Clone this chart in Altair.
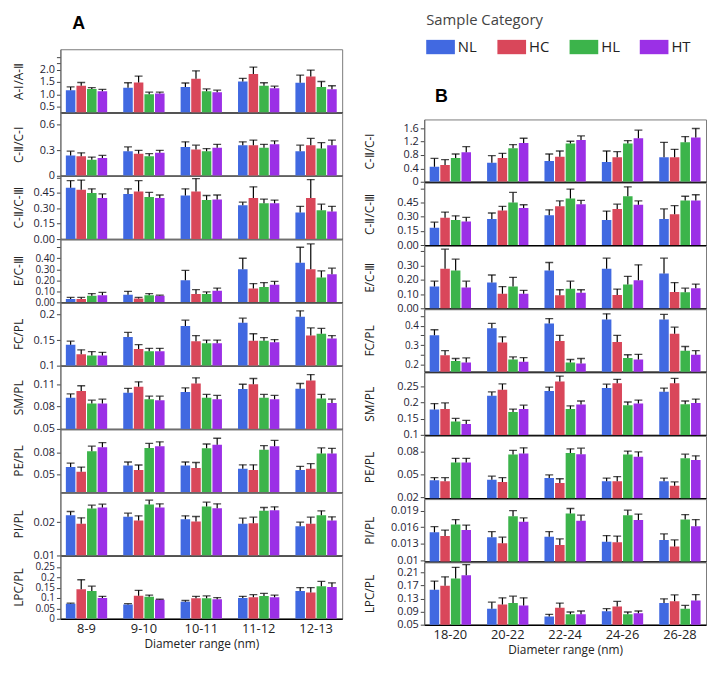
import altair as alt
import pandas as pd

CATS = ["NL", "HC", "HL", "HT"]
COLORS = ["#4169E1", "#D9475A", "#3CB44B", "#9B30E6"]
RANGES_A = ["8-9", "9-10", "10-11", "11-12", "12-13"]
RANGES_B = ["18-20", "20-22", "22-24", "24-26", "26-28"]

# ---------------- Panel A ----------------
A1_MEAN = {"NL": [1.17, 1.27, 1.30, 1.52, 1.47], "HC": [1.35, 1.48, 1.63, 1.82, 1.72],
           "HL": [1.22, 1.01, 1.13, 1.35, 1.30], "HT": [1.13, 1.04, 1.09, 1.25, 1.21]}
A1_HI = {"NL": [1.30, 1.47, 1.46, 1.65, 1.78], "HC": [1.48, 1.74, 1.95, 2.10, 1.98],
         "HL": [1.27, 1.09, 1.22, 1.47, 1.52], "HT": [1.20, 1.09, 1.17, 1.33, 1.35]}

A2_MEAN = {"NL": [0.24, 0.29, 0.34, 0.36, 0.29], "HC": [0.23, 0.26, 0.31, 0.36, 0.36],
           "HL": [0.19, 0.23, 0.29, 0.33, 0.32], "HT": [0.21, 0.27, 0.33, 0.37, 0.36]}
A2_HI = {"NL": [0.29, 0.34, 0.40, 0.40, 0.36], "HC": [0.27, 0.30, 0.36, 0.42, 0.44],
         "HL": [0.22, 0.26, 0.32, 0.37, 0.39], "HT": [0.24, 0.30, 0.37, 0.41, 0.42]}

A3_MEAN = {"NL": [0.50, 0.44, 0.425, 0.33, 0.26], "HC": [0.48, 0.465, 0.465, 0.40, 0.40],
           "HL": [0.45, 0.41, 0.38, 0.35, 0.28], "HT": [0.40, 0.40, 0.385, 0.35, 0.27]}
A3_HI = {"NL": [0.57, 0.49, 0.49, 0.36, 0.32], "HC": [0.575, 0.57, 0.59, 0.51, 0.58],
         "HL": [0.49, 0.455, 0.425, 0.39, 0.34], "HT": [0.44, 0.43, 0.43, 0.38, 0.32]}

A4_MEAN = {"NL": [0.03, 0.07, 0.20, 0.30, 0.36], "HC": [0.03, 0.035, 0.075, 0.125, 0.30],
           "HL": [0.06, 0.065, 0.075, 0.14, 0.225], "HT": [0.065, 0.06, 0.105, 0.16, 0.255]}
A4_HI = {"NL": [0.045, 0.10, 0.29, 0.40, 0.50], "HC": [0.045, 0.045, 0.115, 0.17, 0.53],
         "HL": [0.08, 0.08, 0.095, 0.18, 0.285], "HT": [0.09, 0.065, 0.13, 0.19, 0.31]}

A5_MEAN = {"NL": [0.141, 0.156, 0.1775, 0.184, 0.196], "HC": [0.1225, 0.1325, 0.148, 0.149, 0.159],
           "HL": [0.12, 0.128, 0.144, 0.149, 0.1625], "HT": [0.12, 0.128, 0.144, 0.146, 0.153]}
A5_HI = {"NL": [0.148, 0.165, 0.189, 0.193, 0.2075], "HC": [0.131, 0.141, 0.159, 0.1625, 0.174],
         "HL": [0.1275, 0.134, 0.15, 0.155, 0.173], "HT": [0.126, 0.134, 0.15, 0.151, 0.159]}

A6_MEAN = {"NL": [0.092, 0.0985, 0.0997, 0.1036, 0.104], "HC": [0.101, 0.1065, 0.111, 0.11, 0.115],
           "HL": [0.084, 0.09, 0.092, 0.092, 0.0907], "HT": [0.084, 0.0886, 0.09, 0.09, 0.0847]}
A6_HI = {"NL": [0.097, 0.1045, 0.105, 0.11, 0.111], "HC": [0.108, 0.1133, 0.1186, 0.1177, 0.123],
         "HL": [0.0886, 0.094, 0.0963, 0.0963, 0.0963], "HT": [0.09, 0.094, 0.095, 0.095, 0.09]}

A7_MEAN = {"NL": [0.060, 0.062, 0.062, 0.0575, 0.0557], "HC": [0.0535, 0.0557, 0.0588, 0.056, 0.0575],
           "HL": [0.082, 0.0866, 0.086, 0.084, 0.0787], "HT": [0.0875, 0.0888, 0.091, 0.0888, 0.0787]}
A7_HI = {"NL": [0.0655, 0.067, 0.067, 0.063, 0.061], "HC": [0.060, 0.0628, 0.0663, 0.063, 0.0646],
         "HL": [0.089, 0.0928, 0.092, 0.0897, 0.0866], "HT": [0.094, 0.095, 0.100, 0.097, 0.086]}

A8_MEAN = {"NL": [0.0221, 0.0216, 0.0209, 0.0195, 0.0188], "HC": [0.0195, 0.0205, 0.0202, 0.0197, 0.0195],
           "HL": [0.0241, 0.0253, 0.0247, 0.0234, 0.0221], "HT": [0.0244, 0.0244, 0.0242, 0.0236, 0.0205]}
A8_HI = {"NL": [0.0232, 0.0227, 0.0219, 0.0212, 0.0200], "HC": [0.0213, 0.0219, 0.0217, 0.0215, 0.0215],
         "HL": [0.0251, 0.0266, 0.0260, 0.0244, 0.0234], "HT": [0.0254, 0.0255, 0.0255, 0.0246, 0.0216]}

A9_MEAN = {"NL": [0.0725, 0.069, 0.082, 0.10, 0.134], "HC": [0.142, 0.111, 0.099, 0.103, 0.127],
           "HL": [0.134, 0.1065, 0.099, 0.11, 0.157], "HT": [0.10, 0.091, 0.094, 0.103, 0.153]}
A9_HI = {"NL": [0.075, 0.0725, 0.088, 0.108, 0.15], "HC": [0.188, 0.137, 0.108, 0.116, 0.15],
         "HL": [0.157, 0.114, 0.11, 0.122, 0.18], "HT": [0.108, 0.094, 0.102, 0.114, 0.173]}

# ---------------- Panel B ----------------
B1_MEAN = {"NL": [0.45, 0.57, 0.62, 0.59, 0.73], "HC": [0.50, 0.71, 0.75, 0.73, 0.73],
           "HL": [0.71, 1.00, 1.14, 1.14, 1.18], "HT": [0.88, 1.16, 1.25, 1.30, 1.32]}
B1_HI = {"NL": [0.70, 0.78, 0.83, 0.92, 1.18], "HC": [0.66, 0.85, 0.92, 0.90, 0.97],
         "HL": [0.83, 1.11, 1.21, 1.23, 1.35], "HT": [1.05, 1.30, 1.37, 1.54, 1.59]}

B2_MEAN = {"NL": [0.183, 0.277, 0.317, 0.267, 0.277], "HC": [0.29, 0.367, 0.41, 0.383, 0.327],
           "HL": [0.267, 0.45, 0.493, 0.517, 0.473], "HT": [0.25, 0.393, 0.433, 0.427, 0.473]}
B2_HI = {"NL": [0.243, 0.34, 0.373, 0.36, 0.383], "HC": [0.35, 0.41, 0.467, 0.433, 0.417],
         "HL": [0.31, 0.557, 0.593, 0.617, 0.517], "HT": [0.293, 0.427, 0.473, 0.467, 0.533]}

B3_MEAN = {"NL": [0.152, 0.18, 0.265, 0.276, 0.243], "HC": [0.276, 0.102, 0.091, 0.093, 0.115],
           "HL": [0.265, 0.152, 0.137, 0.167, 0.113], "HT": [0.146, 0.102, 0.109, 0.196, 0.141]}
B3_HI = {"NL": [0.19, 0.233, 0.32, 0.35, 0.35], "HC": [0.413, 0.152, 0.13, 0.135, 0.18],
         "HL": [0.343, 0.217, 0.19, 0.224, 0.141], "HT": [0.19, 0.126, 0.13, 0.304, 0.17]}

B4_MEAN = {"NL": [0.351, 0.387, 0.411, 0.431, 0.431], "HC": [0.249, 0.314, 0.322, 0.317, 0.359],
           "HL": [0.22, 0.228, 0.213, 0.236, 0.273], "HT": [0.213, 0.216, 0.208, 0.228, 0.252]}
B4_HI = {"NL": [0.379, 0.411, 0.436, 0.46, 0.457], "HC": [0.273, 0.343, 0.351, 0.351, 0.392],
         "HL": [0.233, 0.241, 0.228, 0.252, 0.294], "HT": [0.236, 0.237, 0.233, 0.254, 0.273]}

B5_MEAN = {"NL": [0.179, 0.221, 0.236, 0.245, 0.234], "HC": [0.18, 0.24, 0.265, 0.26, 0.26],
           "HL": [0.142, 0.171, 0.18, 0.192, 0.195], "HT": [0.134, 0.18, 0.194, 0.197, 0.199]}
B5_HI = {"NL": [0.197, 0.233, 0.248, 0.257, 0.245], "HC": [0.199, 0.258, 0.282, 0.272, 0.275],
         "HL": [0.151, 0.18, 0.19, 0.202, 0.205], "HT": [0.145, 0.192, 0.205, 0.208, 0.211]}

B6_MEAN = {"NL": [0.0426, 0.0434, 0.0455, 0.0413, 0.0413], "HC": [0.0413, 0.0405, 0.039, 0.0413, 0.0355],
           "HL": [0.066, 0.0765, 0.0785, 0.0765, 0.0715], "HT": [0.066, 0.0777, 0.0769, 0.0736, 0.0694]}
B6_HI = {"NL": [0.046, 0.048, 0.0496, 0.0455, 0.0455], "HC": [0.046, 0.046, 0.0446, 0.0475, 0.0405],
         "HL": [0.0715, 0.0819, 0.084, 0.081, 0.0769], "HT": [0.0715, 0.0852, 0.0848, 0.0798, 0.0748]}

B7_MEAN = {"NL": [0.0151, 0.0142, 0.0143, 0.0134, 0.0137], "HC": [0.0144, 0.0131, 0.0128, 0.0133, 0.0125],
           "HL": [0.0165, 0.0180, 0.0185, 0.0182, 0.0174], "HT": [0.0155, 0.0170, 0.0172, 0.0173, 0.0162]}
B7_HI = {"NL": [0.0161, 0.0152, 0.0152, 0.0145, 0.0148], "HC": [0.0155, 0.0142, 0.0139, 0.0144, 0.0137],
         "HL": [0.0174, 0.0190, 0.0194, 0.0191, 0.0183], "HT": [0.0164, 0.0177, 0.0182, 0.0184, 0.0174]}

B8_MEAN = {"NL": [0.157, 0.099, 0.075, 0.091, 0.116], "HC": [0.169, 0.112, 0.102, 0.106, 0.122],
           "HL": [0.191, 0.116, 0.082, 0.082, 0.099], "HT": [0.201, 0.109, 0.082, 0.085, 0.124]}
B8_HI = {"NL": [0.183, 0.119, 0.082, 0.099, 0.129], "HC": [0.196, 0.132, 0.116, 0.121, 0.141],
         "HL": [0.225, 0.137, 0.089, 0.089, 0.109], "HT": [0.233, 0.132, 0.092, 0.092, 0.142]}

# row definitions: (title, domain, labelled ticks, labels, minor ticks, mean, hi)
ROWS_A = [
    ("A-Ⅰ/A-Ⅱ", [0.27, 2.82], [0.5, 1.0, 1.5, 2.0], ["0.5", "1.0", "1.5", "2.0"], [2.25, 2.5], A1_MEAN, A1_HI),
    ("C-Ⅱ/C-Ⅰ", [0, 0.744], [0, 0.3, 0.6], ["0", "0.3", "0.6"], [], A2_MEAN, A2_HI),
    ("C-Ⅱ/C-Ⅲ", [0, 0.617], [0, 0.15, 0.3, 0.45], ["0.00", "0.15", "0.30", "0.45"], [0.6], A3_MEAN, A3_HI),
    ("E/C-Ⅲ", [0, 0.574], [0, 0.1, 0.2, 0.3, 0.4], ["0.00", "0.10", "0.20", "0.30", "0.40"], [0.5], A4_MEAN, A4_HI),
    ("FC/PL", [0.1, 0.224], [0.1, 0.15, 0.2], ["0.1", "0.15", "0.2"], [], A5_MEAN, A5_HI),
    ("SM/PL", [0.05, 0.135], [0.05, 0.08, 0.11], ["0.05", "0.08", "0.11"], [], A6_MEAN, A6_HI),
    ("PE/PL", [0.025, 0.113], [0.05, 0.08], ["0.05", "0.08"], [], A7_MEAN, A7_HI),
    ("PI/PL", [0.01, 0.029], [0.01, 0.02], ["0.01", "0.02"], [], A8_MEAN, A8_HI),
    ("LPC/PL", [0, 0.305], [0, 0.05, 0.1, 0.15, 0.2, 0.25], ["0", "0.05", "0.1", "0.15", "0.2", "0.25"], [], A9_MEAN, A9_HI),
]
ROWS_B = [
    ("C-Ⅱ/C-Ⅰ", [0, 1.86], [0, 0.4, 0.8, 1.2, 1.6], ["0", "0.4", "0.8", "1.2", "1.6"], [], B1_MEAN, B1_HI),
    ("C-Ⅱ/C-Ⅲ", [0, 0.66], [0, 0.15, 0.3, 0.45], ["0.00", "0.15", "0.30", "0.45"], [0.6], B2_MEAN, B2_HI),
    ("E/C-Ⅲ", [0, 0.435], [0, 0.1, 0.2, 0.3], ["0.00", "0.10", "0.20", "0.30"], [0.4], B3_MEAN, B3_HI),
    ("FC/PL", [0.166, 0.483], [0.2, 0.25, 0.3, 0.35, 0.4], ["0.2", "0.25", "0.3", "0.35", "0.4"], [0.45], B4_MEAN, B4_HI),
    ("SM/PL", [0.1, 0.293], [0.1, 0.15, 0.2, 0.25], ["0.1", "0.15", "0.2", "0.25"], [], B5_MEAN, B5_HI),
    ("PE/PL", [0.019, 0.101], [0.02, 0.05, 0.08], ["0.02", "0.05", "0.08"], [], B6_MEAN, B6_HI),
    ("PI/PL", [0.0098, 0.0211], [0.01, 0.013, 0.016, 0.019], ["0.01", "0.013", "0.016", "0.019"], [], B7_MEAN, B7_HI),
    ("LPC/PL", [0.05, 0.24], [0.05, 0.09, 0.13, 0.17, 0.21], ["0.05", "0.09", "0.13", "0.17", "0.21"], [], B8_MEAN, B8_HI),
]

FONT = "Open Sans"
W = 285
H_A = 64
SPACER_A = 37
SPACER_B = SPACER_A + 71
H_B = (9 * H_A - 71) / 8
GAP = 20

LEGEND = alt.Legend(
    title="Sample Category", orient="none", legendX=370, legendY=0,
    direction="horizontal", symbolType="M-1,-0.5H1V0.5H-1Z", symbolSize=841,
    symbolStrokeWidth=0, symbolOpacity=1, labelFontSize=15, labelFont=FONT,
    labelColor="#222", titleFontSize=15, titleFont=FONT, titleFontWeight="normal",
    titleColor="#444", columnPadding=20, labelOffset=3, titlePadding=5, padding=0,
)
COLOR = alt.Color("cat:N", sort=CATS, scale=alt.Scale(domain=CATS, range=COLORS), legend=LEGEND)


def long_df(groups, mean, hi):
    recs = []
    for c in CATS:
        for g, m, h in zip(groups, mean[c], hi[c]):
            recs.append({"grp": g, "cat": c, "mean": m, "hi": h})
    return pd.DataFrame(recs)


def label_expr(values, labels):
    expr = "''"
    for v, lab in reversed(list(zip(values, labels))):
        expr = f"datum.value == {v!r} ? '{lab}' : ({expr})"
    return expr


def make_row(groups, spec, last, title_x, height, panel_title=None, title_dx=0, title_offset=0):
    ytitle, domain, tvals, tlabels, minor, mean, hi = spec
    df = long_df(groups, mean, hi)
    # smaller tick labels where labelled ticks are packed closely
    step_px = min(b - a for a, b in zip(tvals[:-1], tvals[1:])) * height / (domain[1] - domain[0])
    label_size = 10 if step_px < 11.5 else 11
    if last:
        xaxis = alt.Axis(title="Diameter range (nm)", labelAngle=0, ticks=False, labelFontSize=13,
                         labelPadding=4, titleFontSize=12, titlePadding=3, domainColor="black",
                         domainWidth=1.5, labelColor="#222", titleColor="#222",
                         titleFontWeight="normal")
    else:
        xaxis = alt.Axis(title=None, labels=False, ticks=False, domainColor="black", domainWidth=1.5)
    x = alt.X("grp:N", sort=groups, scale=alt.Scale(domain=groups, paddingInner=0.28, paddingOuter=0.095),
              axis=xaxis)
    xo = alt.XOffset("cat:N", sort=CATS, scale=alt.Scale(domain=CATS, paddingInner=0.1))
    yaxis = alt.Axis(title=ytitle, values=tvals + minor, labelExpr=label_expr(tvals, tlabels),
                     titleX=title_x, grid=False, tickSize=4, labelFontSize=label_size,
                     labelPadding=2, titleFontSize=12, titleFontWeight="normal",
                     domainColor="#666", tickColor="#444", labelColor="#1e2233", titleColor="#222")
    yscale = alt.Scale(domain=domain, zero=False, nice=False)
    base = alt.Chart(df)
    bars = base.mark_bar(clip=True).encode(
        x=x, xOffset=xo, y=alt.Y("mean:Q", scale=yscale, axis=yaxis), color=COLOR)
    rules = base.mark_rule(clip=True, color="black", strokeWidth=1.2).encode(
        x=x, xOffset=xo, y=alt.Y("mean:Q", scale=yscale, axis=yaxis), y2="hi:Q")
    caps = base.mark_tick(clip=True, color="black", thickness=1.3, size=8).encode(
        x=x, xOffset=xo, y=alt.Y("hi:Q", scale=yscale, axis=yaxis))
    props = dict(width=W, height=height)
    if panel_title:
        props["title"] = alt.TitleParams(text=panel_title, anchor="start", frame="group", dx=title_dx,
                                         offset=title_offset, fontSize=18, font="Liberation Sans",
                                         fontWeight="bold", color="black")
    return alt.layer(bars, rules, caps).properties(**props)


def spacer(height):
    return alt.Chart(pd.DataFrame({"v": [0]})).mark_point(opacity=0, size=1).encode(
        x=alt.value(1), y=alt.value(1)
    ).properties(width=W, height=height, view=alt.ViewBackground(stroke="transparent"))


rows_a = [spacer(SPACER_A)]
for i, spec in enumerate(ROWS_A):
    rows_a.append(make_row(RANGES_A, spec, i == len(ROWS_A) - 1, -35, H_A,
                           panel_title="A" if i == 0 else None, title_dx=12, title_offset=16))

rows_b = [spacer(SPACER_B)]
for i, spec in enumerate(ROWS_B):
    rows_b.append(make_row(RANGES_B, spec, i == len(ROWS_B) - 1, -48, H_B,
                           panel_title="B" if i == 0 else None, title_dx=11, title_offset=14))

panel_a = alt.vconcat(*rows_a, spacing=0, bounds="flush").resolve_scale(x="independent", y="independent")
panel_b = alt.vconcat(*rows_b, spacing=0, bounds="flush").resolve_scale(x="independent", y="independent")

chart = alt.hconcat(panel_a, panel_b, spacing=GAP).resolve_scale(
    x="independent", y="independent"
).properties(padding={"left": 4, "top": 0, "right": 0, "bottom": 0}).configure_view(
    stroke="#7a7a7a", strokeWidth=1
).configure_axis(labelFont=FONT, titleFont=FONT)

chart.save("out.html", embed_options={"renderer": "svg", "actions": False})
